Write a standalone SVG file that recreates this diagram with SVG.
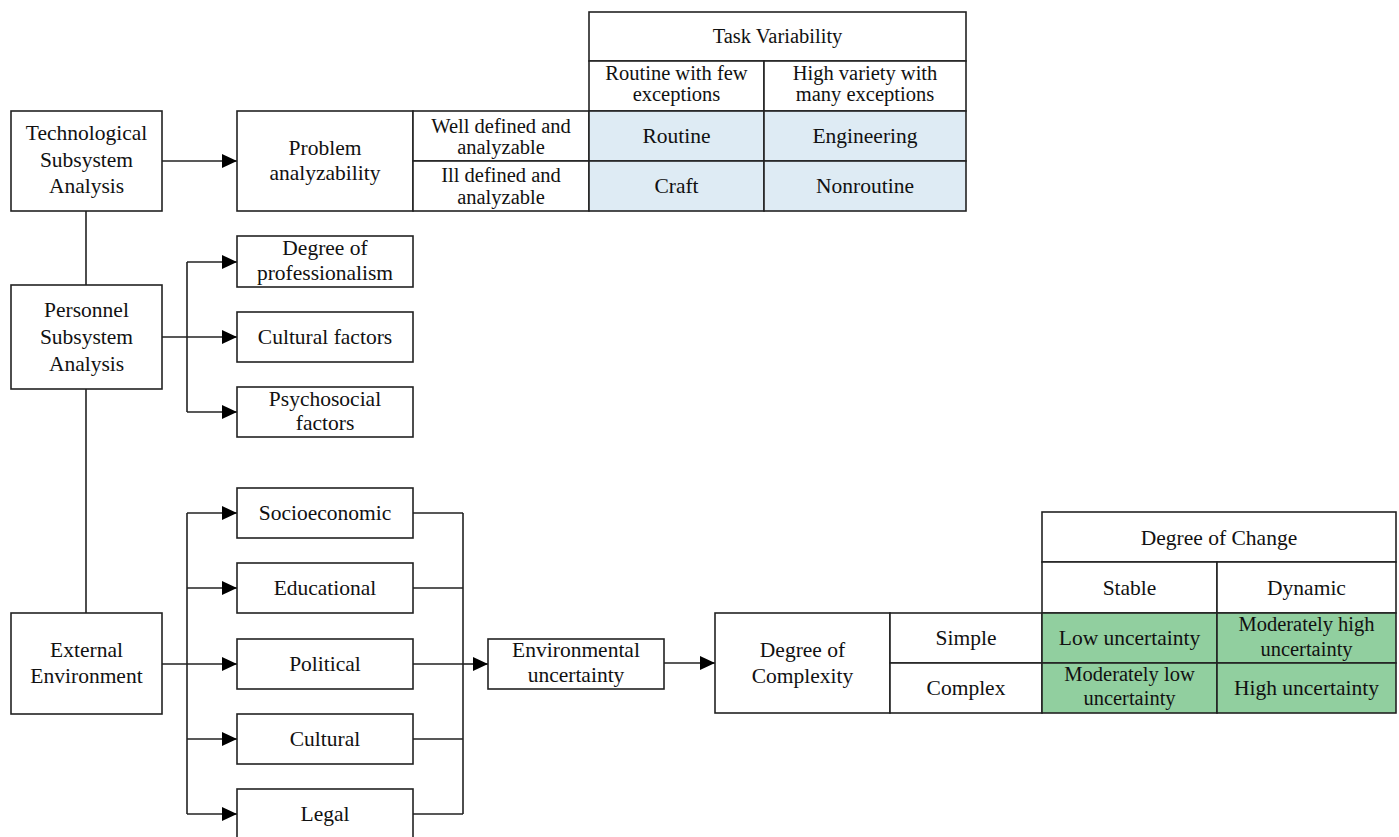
<svg xmlns="http://www.w3.org/2000/svg" width="1399" height="837" viewBox="0 0 1399 837" font-family="'Liberation Serif', 'Times New Roman', 'DejaVu Serif', serif">
<defs>
<style>
.b{fill:#fff;stroke:#222;stroke-width:1.6}
.blue{fill:#deebf4;stroke:#222;stroke-width:1.6}
.green{fill:#91cf9f;stroke:#222;stroke-width:1.6}
text{font-family:'Liberation Serif','Times New Roman','DejaVu Serif',serif;font-size:21.5px;fill:#111;text-anchor:middle}
.s{font-size:20.5px}
.c{fill:none;stroke:#222;stroke-width:1.6}
</style>
<marker id="ah" markerWidth="16" markerHeight="14" refX="15" refY="7" orient="auto" markerUnits="userSpaceOnUse">
<path d="M0,0 L15,7 L0,14 Z" fill="#000"/>
</marker>
</defs>
<g id="connectors">
<path class="c" d="M162,161 H237" marker-end="url(#ah)"/>
<path class="c" d="M86,211 V285 M86,389 V613"/>
<path class="c" d="M162,337 H187 M187,262 V412"/>
<path class="c" d="M187,262 H237" marker-end="url(#ah)"/>
<path class="c" d="M187,337 H237" marker-end="url(#ah)"/>
<path class="c" d="M187,412 H237" marker-end="url(#ah)"/>
<path class="c" d="M162,664 H187 M187,513 V814"/>
<path class="c" d="M187,513 H237" marker-end="url(#ah)"/>
<path class="c" d="M187,588 H237" marker-end="url(#ah)"/>
<path class="c" d="M187,664 H237" marker-end="url(#ah)"/>
<path class="c" d="M187,739 H237" marker-end="url(#ah)"/>
<path class="c" d="M187,814 H237" marker-end="url(#ah)"/>
<path class="c" d="M413,513 H463 M413,588 H463 M413,739 H463 M413,814 H463 M463,513 V814 M413,664 H463"/>
<path class="c" d="M463,664 H488" marker-end="url(#ah)"/>
<path class="c" d="M664,663 H715" marker-end="url(#ah)"/>
</g>
<g id="tech">
<rect class="b" x="11" y="111" width="151" height="100"/>
<text x="86.5" y="140">Technological</text>
<text x="86.5" y="167">Subsystem</text>
<text x="86.5" y="193">Analysis</text>
</g>
<g id="problem">
<rect class="b" x="237" y="111" width="176" height="100"/>
<text x="325" y="155">Problem</text>
<text x="325" y="180">analyzability</text>
</g>
<g id="task-table">
<rect class="b" x="413" y="111" width="176" height="50"/>
<rect class="b" x="413" y="161" width="176" height="50"/>
<text class="s" x="501" y="133">Well defined and</text>
<text class="s" x="501" y="154">analyzable</text>
<text class="s" x="501" y="182">Ill defined and</text>
<text class="s" x="501" y="204">analyzable</text>
<rect class="b" x="589" y="12" width="377" height="49"/>
<text class="s" x="777.5" y="43">Task Variability</text>
<rect class="b" x="589" y="61" width="175" height="50"/>
<rect class="b" x="764" y="61" width="202" height="50"/>
<text class="s" x="676.5" y="80">Routine with few</text>
<text class="s" x="676.5" y="101">exceptions</text>
<text class="s" x="865" y="80">High variety with</text>
<text class="s" x="865" y="101">many exceptions</text>
<rect class="blue" x="589" y="111" width="175" height="50"/>
<rect class="blue" x="764" y="111" width="202" height="50"/>
<rect class="blue" x="589" y="161" width="175" height="50"/>
<rect class="blue" x="764" y="161" width="202" height="50"/>
<text x="676.5" y="143">Routine</text>
<text x="865" y="143">Engineering</text>
<text x="676.5" y="193">Craft</text>
<text x="865" y="193">Nonroutine</text>
</g>
<g id="personnel">
<rect class="b" x="11" y="285" width="151" height="104"/>
<text x="86.5" y="317">Personnel</text>
<text x="86.5" y="344">Subsystem</text>
<text x="86.5" y="371">Analysis</text>
</g>
<g id="professionalism">
<rect class="b" x="237" y="236" width="176" height="51"/>
<text x="325" y="255">Degree of</text>
<text x="325" y="280">professionalism</text>
</g>
<g id="cultural-factors">
<rect class="b" x="237" y="312" width="176" height="50"/>
<text x="325" y="344">Cultural factors</text>
</g>
<g id="psychosocial">
<rect class="b" x="237" y="387" width="176" height="50"/>
<text x="325" y="406">Psychosocial</text>
<text x="325" y="430">factors</text>
</g>
<g id="external">
<rect class="b" x="11" y="613" width="151" height="101"/>
<text x="86.5" y="657">External</text>
<text x="86.5" y="683">Environment</text>
</g>
<g id="socioeconomic">
<rect class="b" x="237" y="488" width="176" height="50"/>
<text x="325" y="520">Socioeconomic</text>
</g>
<g id="educational">
<rect class="b" x="237" y="563" width="176" height="50"/>
<text x="325" y="595">Educational</text>
</g>
<g id="political">
<rect class="b" x="237" y="639" width="176" height="50"/>
<text x="325" y="671">Political</text>
</g>
<g id="cultural">
<rect class="b" x="237" y="714" width="176" height="50"/>
<text x="325" y="746">Cultural</text>
</g>
<g id="legal">
<rect class="b" x="237" y="789" width="176" height="52"/>
<text x="325" y="821">Legal</text>
</g>
<g id="env-uncertainty">
<rect class="b" x="488" y="639" width="176" height="50"/>
<text x="576" y="657">Environmental</text>
<text x="576" y="682">uncertainty</text>
</g>
<g id="complexity">
<rect class="b" x="715" y="613" width="175" height="100"/>
<text x="802.5" y="657">Degree of</text>
<text x="802.5" y="683">Complexity</text>
</g>
<g id="change-table">
<rect class="b" x="890" y="613" width="152" height="50"/>
<rect class="b" x="890" y="663" width="152" height="50"/>
<text x="966" y="645">Simple</text>
<text x="966" y="695">Complex</text>
<rect class="b" x="1042" y="512" width="354" height="50"/>
<text x="1219" y="545">Degree of Change</text>
<rect class="b" x="1042" y="562" width="175" height="51"/>
<rect class="b" x="1217" y="562" width="179" height="51"/>
<text x="1129.5" y="595">Stable</text>
<text x="1306.5" y="595">Dynamic</text>
<rect class="green" x="1042" y="613" width="175" height="50"/>
<rect class="green" x="1217" y="613" width="179" height="50"/>
<rect class="green" x="1042" y="663" width="175" height="50"/>
<rect class="green" x="1217" y="663" width="179" height="50"/>
<text x="1129.5" y="645">Low uncertainty</text>
<text class="s" x="1306.5" y="631">Moderately high</text>
<text class="s" x="1306.5" y="656">uncertainty</text>
<text class="s" x="1129.5" y="681">Moderately low</text>
<text class="s" x="1129.5" y="705">uncertainty</text>
<text x="1306.5" y="695">High uncertainty</text>
</g>
</svg>
